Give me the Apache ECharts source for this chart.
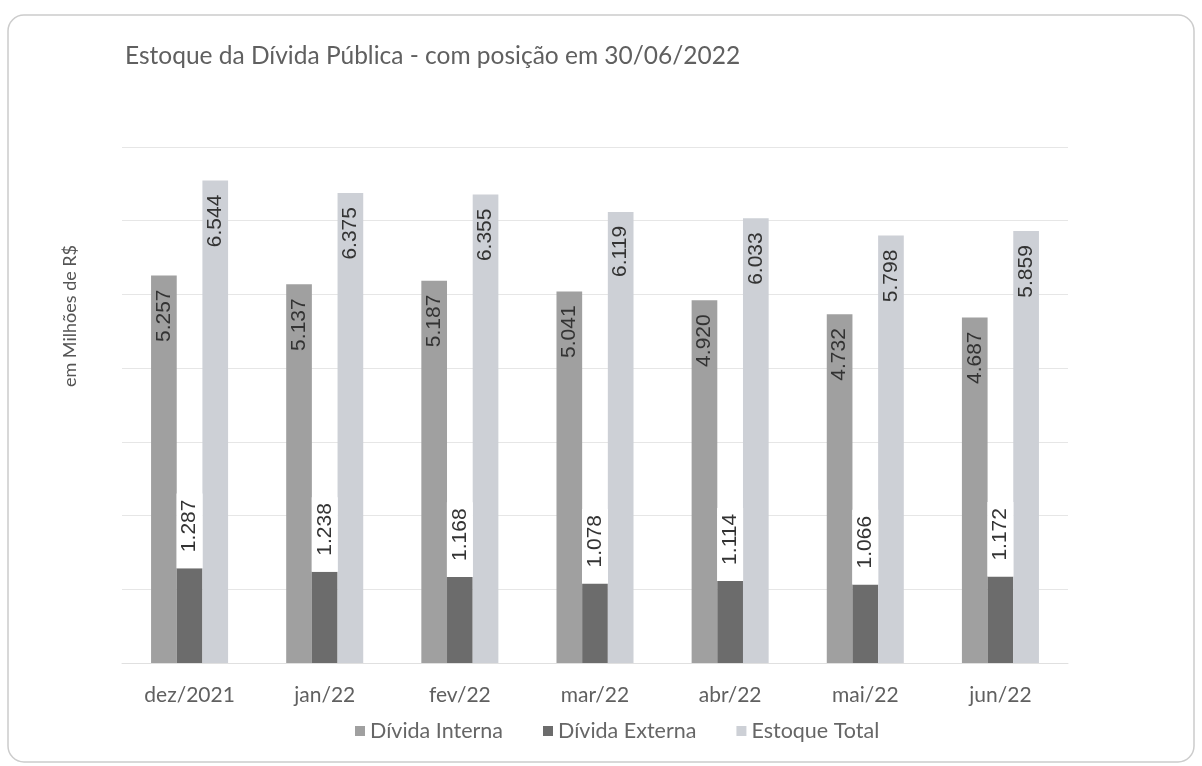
<!DOCTYPE html>
<html>
<head>
<meta charset="utf-8">
<script src="https://cdn.jsdelivr.net/npm/echarts@6/dist/echarts.min.js"></script>
<style>
  html, body { margin: 0; padding: 0; background: #ffffff; }
  #chart { width: 1202px; height: 766px; }
</style>
</head>
<body>
<div id="chart"></div>
<script>
// Month labels
const categories = ['dez/2021', 'jan/22', 'fev/22', 'mar/22', 'abr/22', 'mai/22', 'jun/22'];
// Stock of public debt, R$ (values shown with pt-BR thousands separator)
const dividaInterna = [5257, 5137, 5187, 5041, 4920, 4732, 4687];
const dividaExterna = [1287, 1238, 1168, 1078, 1114, 1066, 1172];
const estoqueTotal  = [6544, 6375, 6355, 6119, 6033, 5798, 5859];
const seriesNames = ['Dívida Interna', 'Dívida Externa', 'Estoque Total'];

const fmt = v => String(v).replace(/\B(?=(\d{3})+(?!\d))/g, '.');

const chart = echarts.init(document.getElementById('chart'));

const insideTopLabel = {
  show: true,
  position: 'insideTop',
  rotate: 90,
  align: 'right',
  verticalAlign: 'middle',
  distance: 14,
  color: '#333333',
  fontFamily: 'Liberation Sans',
  fontSize: 21,
  formatter: p => fmt(p.value)
};

chart.setOption({
  animation: false,
  backgroundColor: '#ffffff',
  graphic: [
    {
      type: 'rect',
      shape: { x: 8, y: 15, width: 1186, height: 747, r: 16 },
      style: { fill: '#ffffff', stroke: '#cccccc', lineWidth: 1.5 },
      z: -10
    },
    {
      type: 'text',
      x: 70,
      y: 316,
      rotation: Math.PI / 2,
      style: {
        text: 'em Milhões de R$',
        fill: '#555555',
        fontFamily: 'Lato',
        fontSize: 18,
        align: 'center',
        verticalAlign: 'middle'
      }
    }
  ],
  title: {
    text: 'Estoque da Dívida Pública - com posição em 30/06/2022',
    left: 120,
    top: 39,
    textStyle: { color: '#606060', fontFamily: 'Lato', fontWeight: 'normal', fontSize: 24.5 }
  },
  legend: {
    data: seriesNames,
    bottom: 19,
    left: 350,
    itemWidth: 10,
    itemHeight: 10,
    itemGap: 40,
    icon: 'rect',
    textStyle: { color: '#666666', fontFamily: 'Lato', fontSize: 21.5 }
  },
  grid: { left: 122, right: 134, top: 147, bottom: 103 },
  xAxis: {
    type: 'category',
    data: categories,
    axisLine: { show: true, lineStyle: { color: '#e0e0e0' } },
    axisTick: { show: false },
    axisLabel: { color: '#606060', fontFamily: 'Lato', fontSize: 21, margin: 22 }
  },
  yAxis: {
    type: 'value',
    min: 0,
    max: 7000,
    interval: 1000,
    axisLabel: { show: false },
    axisLine: { show: false },
    axisTick: { show: false },
    splitLine: { lineStyle: { color: '#e6e6e6' } }
  },
  series: [
    {
      name: seriesNames[0],
      type: 'bar',
      data: dividaInterna,
      barGap: '0%',
      barCategoryGap: '43%',
      itemStyle: { color: '#a0a0a0' },
      label: insideTopLabel
    },
    {
      name: seriesNames[1],
      type: 'bar',
      data: dividaExterna,
      itemStyle: { color: '#6c6c6c' },
      label: {
        show: true,
        position: 'top',
        rotate: 90,
        align: 'left',
        verticalAlign: 'middle',
        distance: 0,
        color: '#333333',
        fontFamily: 'Liberation Sans',
        fontSize: 21,
        lineHeight: 21,
        backgroundColor: '#ffffff',
        padding: [3, 6, 2, 16],
        formatter: p => fmt(p.value)
      }
    },
    {
      name: seriesNames[2],
      type: 'bar',
      data: estoqueTotal,
      itemStyle: { color: '#cdd0d6' },
      label: insideTopLabel
    }
  ]
});
</script>
</body>
</html>
